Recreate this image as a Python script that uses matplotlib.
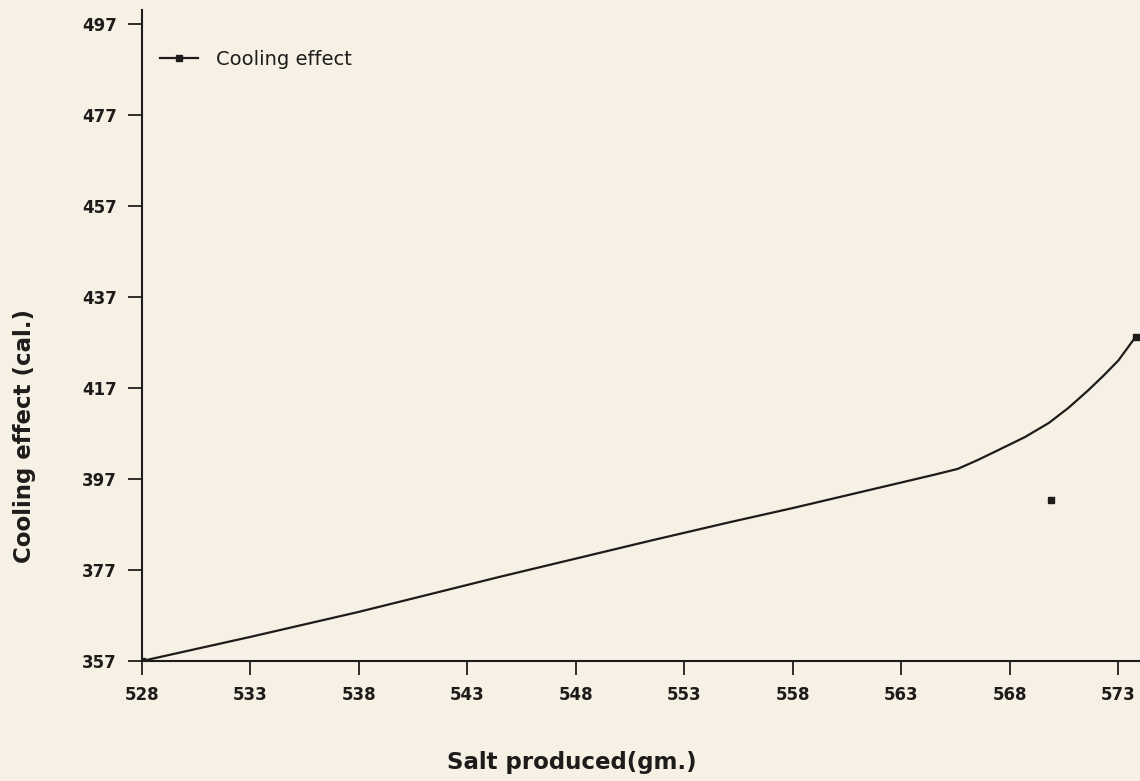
import numpy as np
from matplotlib import pyplot as plt

# values
salt = [528, 533, 538, 541.3, 544.5, 548, 551.5, 555.1, 558, 562.9,
        564.5, 565.6, 566.5, 567.5, 568.7, 569.8, 570.7, 571.6, 572.3, 573.0, 573.8]
cooling = [357, 362.3, 367.8, 371.7, 375.5, 379.5, 383.5, 387.5, 390.6, 396.1,
           397.9, 399.2, 401.1, 403.4, 406.2, 409.3, 412.6, 416.4, 419.6, 423.0, 428.2]
stray_salt = [569.9]
stray_cooling = [392.4]

x_ticks = [528, 533, 538, 543, 548, 553, 558, 563, 568, 573]
y_ticks = [357, 377, 397, 417, 437, 457, 477, 497]

paper = '#f6f0e5'
ink = '#1e1c1a'

fig = plt.figure(figsize=(11.4, 7.81), dpi=100)
fig.patch.set_facecolor(paper)
ax = fig.add_axes([142 / 1140, 120 / 781, 998 / 1140, 651 / 781])
ax.set_facecolor(paper)

ax.plot(salt, cooling, color=ink, lw=1.6, marker='s', ms=4,
        markevery=[0, len(salt) - 1], label='Cooling effect')
ax.plot(stray_salt, stray_cooling, ls='none', marker='s', ms=4, color=ink)

ax.set_xlim(528, 574)
ax.set_ylim(357, 500)
ax.set_xticks(x_ticks)
ax.set_yticks(y_ticks)
ax.tick_params(direction='out', length=10, width=1.3, color=ink,
               labelsize=12, labelcolor=ink, pad=8)
for lab in ax.get_xticklabels() + ax.get_yticklabels():
    lab.set_fontweight('bold')

for s in ['top', 'right']:
    ax.spines[s].set_visible(False)
for s in ['left', 'bottom']:
    ax.spines[s].set_color(ink)
    ax.spines[s].set_linewidth(1.5)

leg = ax.legend(loc='upper left', bbox_to_anchor=(0.0, 0.965), frameon=False,
                fontsize=14, handlelength=2.0, handletextpad=0.9)
for t in leg.get_texts():
    t.set_color(ink)

fig.text(25 / 1140, 1 - 436 / 781, 'Cooling effect (cal.)', rotation=90,
         ha='center', va='center', fontsize=16.5, fontweight='bold', color=ink)
fig.text(572 / 1140, 1 - 763 / 781, 'Salt produced(gm.)',
         ha='center', va='center', fontsize=16.5, fontweight='bold', color=ink)

fig.savefig('out.png', dpi=100, facecolor=paper)
